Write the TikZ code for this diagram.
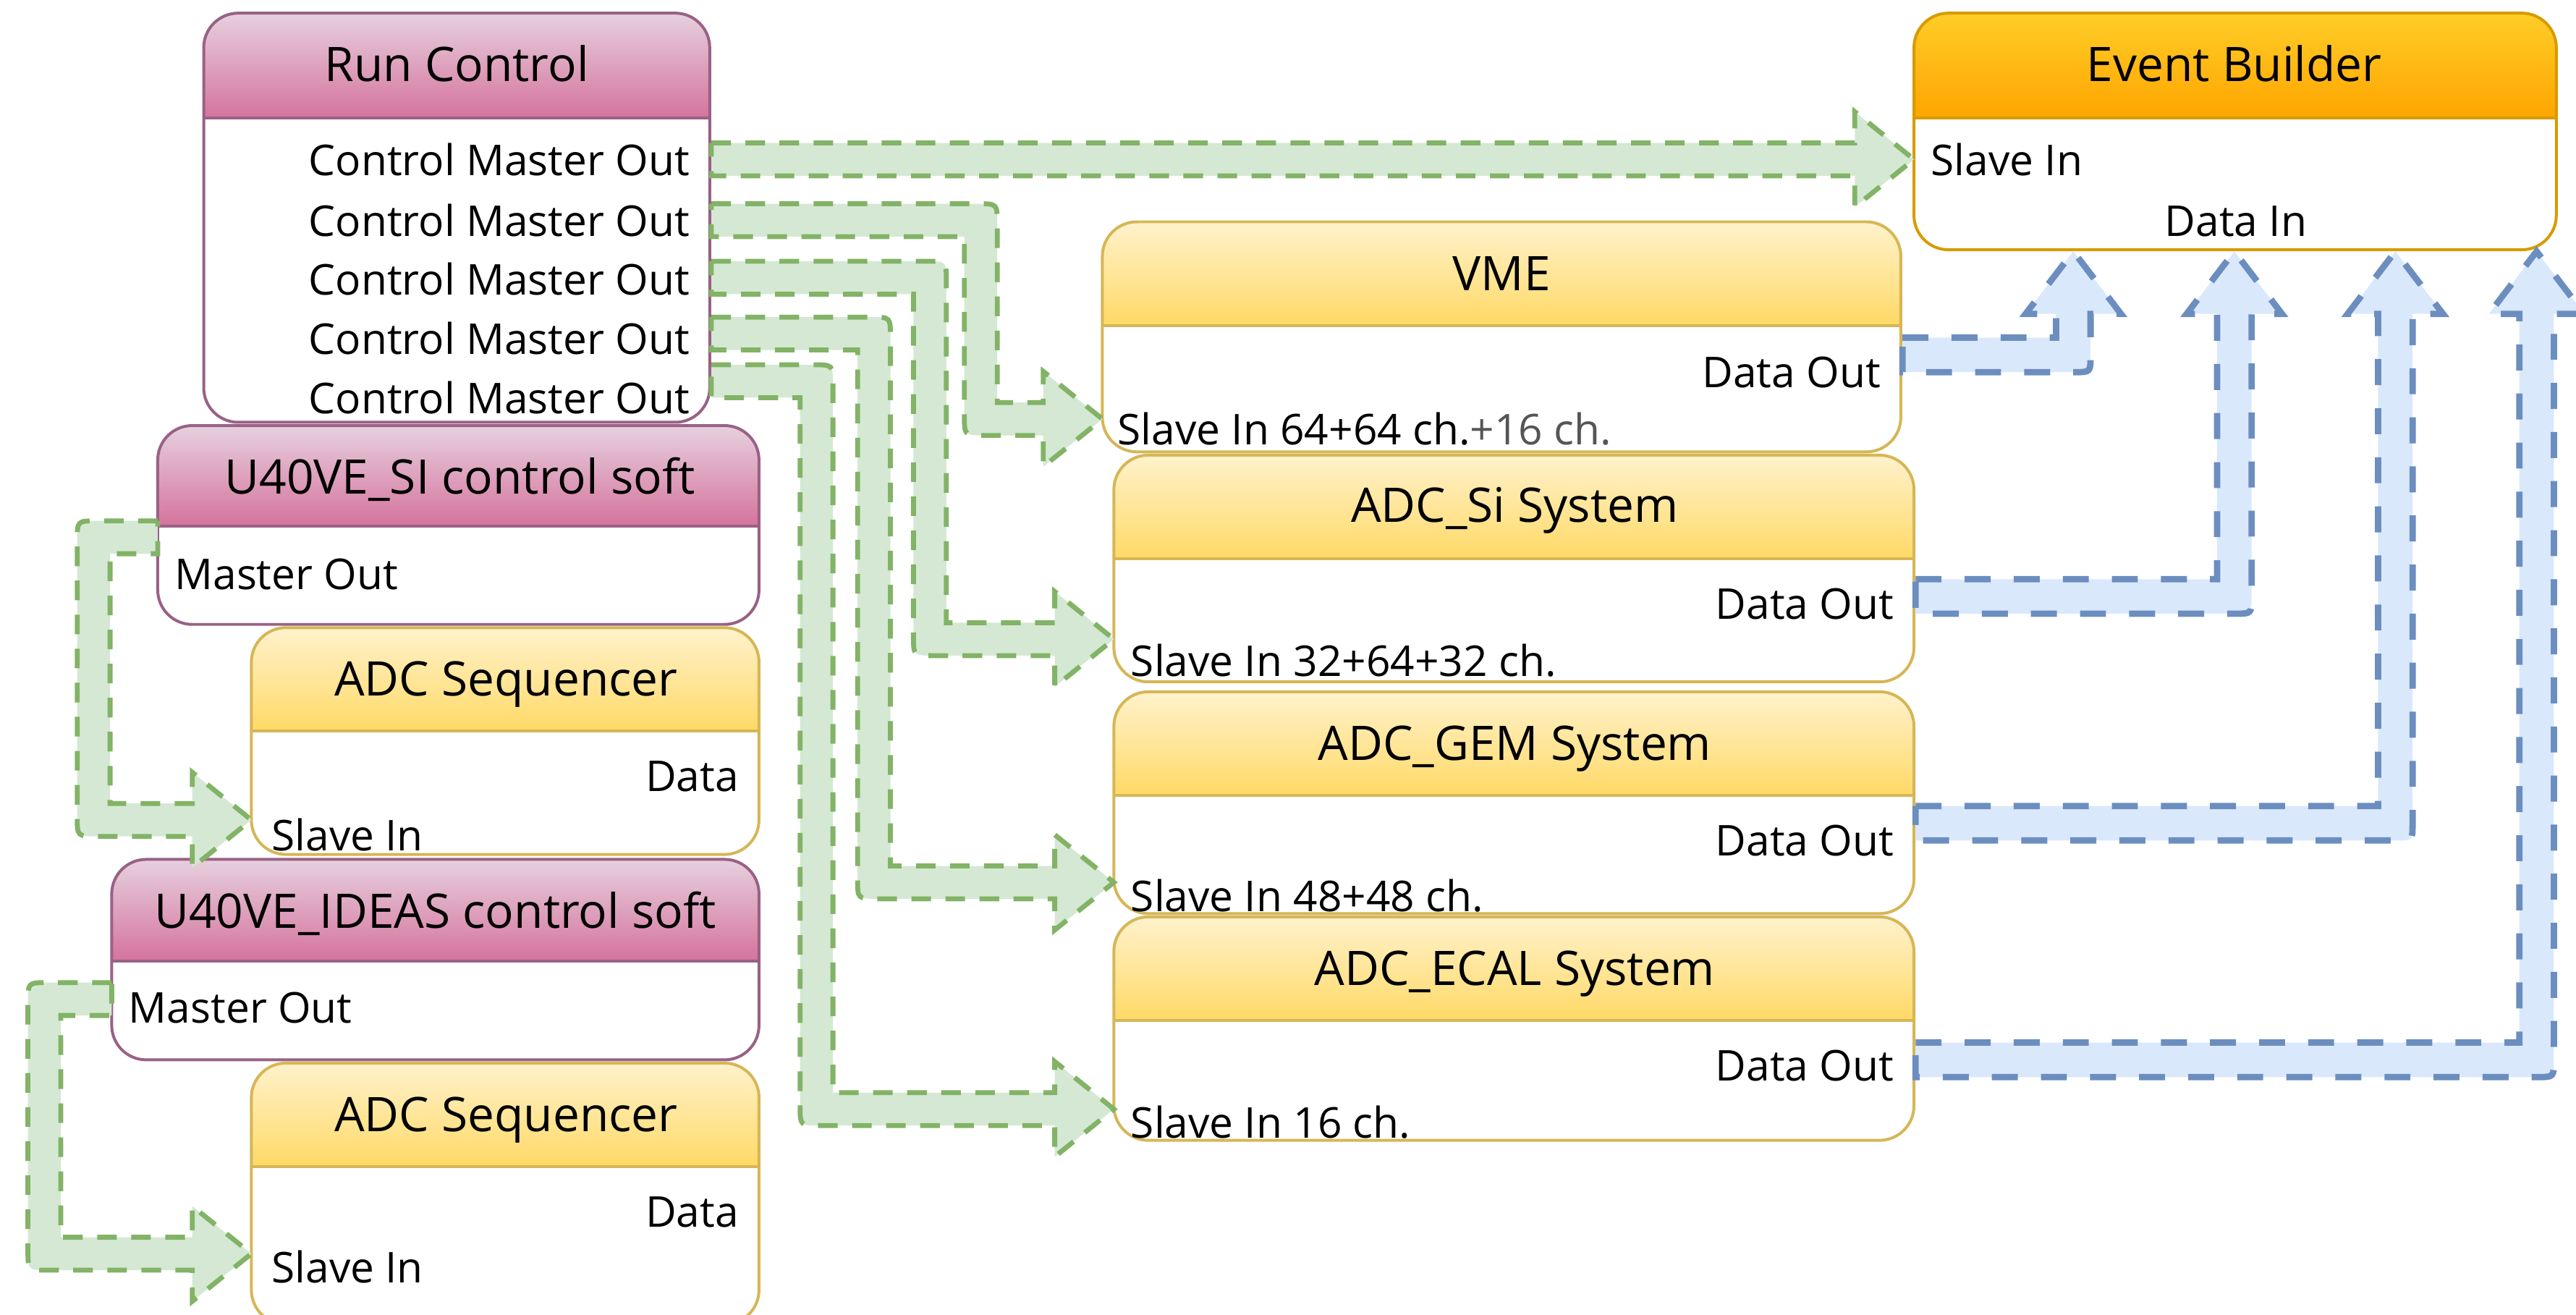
\documentclass[tikz,border=0pt]{standalone}
\usepackage{fontspec}
\setmainfont{Open Sans}
\usetikzlibrary{calc}
\definecolor{pinkT}{HTML}{E6D0DE}
\definecolor{pinkB}{HTML}{D5739D}
\definecolor{pinkS}{HTML}{996185}
\definecolor{yelT}{HTML}{FFF2CC}
\definecolor{yelB}{HTML}{FFD966}
\definecolor{yelS}{HTML}{D6B656}
\definecolor{oraT}{HTML}{FFCD28}
\definecolor{oraB}{HTML}{FFA500}
\definecolor{oraS}{HTML}{D79B00}
\definecolor{gFill}{HTML}{D5E8D4}
\definecolor{gLine}{HTML}{82B366}
\definecolor{bFill}{HTML}{DAE8FC}
\definecolor{bLine}{HTML}{6C8EBF}
\definecolor{grayTxt}{HTML}{555555}

% swimlane box: #1 x1, #2 y1, #3 x2, #4 y2, #5 header bottom y, #6 top colour, #7 bottom colour, #8 stroke
\newcommand\swimbox[8]{%
  \begin{scope}
    \clip[rounded corners=0.42cm] (#1,#2) rectangle (#3,#4);
    \fill[white] (#1,#2) rectangle (#3,#4);
    \shade[top color=#6,bottom color=#7] (#1,#2) rectangle (#3,#5);
  \end{scope}
  \draw[#8,line width=1pt,rounded corners=0.42cm] (#1,#2) rectangle (#3,#4);
  \draw[#8,line width=1pt] (#1,#5) -- (#3,#5);
}

% straight arrow: #1 start, #2 tip, #3 style
\newcommand\arrowS[3]{%
  \draw[#3] ($(#1)+(0,-\ah)$) -- ($(#2)+(-\aL,-\ah)$) -- ($(#2)+(-\aL,-\aH)$) -- (#2)
    -- ($(#2)+(-\aL,\aH)$) -- ($(#2)+(-\aL,\ah)$) -- ($(#1)+(0,\ah)$) -- cycle;}

% right-down-right arrow: #1 start, #2 bend x, #3 tip, #4 style
\newcommand\arrowRDR[4]{%
  \coordinate (bA) at (#2,0 |- #1);
  \coordinate (bB) at (#2,0 |- #3);
  \draw[#4] ($(#1)+(0,-\ah)$) -- ($(bA)+(\ah-\cr,-\ah)$) .. controls ($(bA)+(\ah,-\ah)$) .. ($(bA)+(\ah,-\ah+\cr)$)
    -- ($(bB)+(\ah,-\ah)$) -- ($(#3)+(-\aL,-\ah)$) -- ($(#3)+(-\aL,-\aH)$) -- (#3)
    -- ($(#3)+(-\aL,\aH)$) -- ($(#3)+(-\aL,\ah)$) -- ($(bB)+(-\ah+\cr,\ah)$) .. controls ($(bB)+(-\ah,\ah)$) .. ($(bB)+(-\ah,\ah-\cr)$)
    -- ($(bA)+(-\ah,\ah)$) -- ($(#1)+(0,\ah)$) -- cycle;}

% left-down-right arrow: #1 start, #2 bend x, #3 tip, #4 style
\newcommand\arrowLDR[4]{%
  \coordinate (bA) at (#2,0 |- #1);
  \coordinate (bB) at (#2,0 |- #3);
  \draw[#4] ($(#1)+(0,-\ah)$) -- ($(bA)+(-\ah+\cr,-\ah)$) .. controls ($(bA)+(-\ah,-\ah)$) .. ($(bA)+(-\ah,-\ah+\cr)$)
    -- ($(bB)+(-\ah,\ah-\cr)$) .. controls ($(bB)+(-\ah,\ah)$) .. ($(bB)+(-\ah+\cr,\ah)$)
    -- ($(#3)+(-\aL,\ah)$) -- ($(#3)+(-\aL,\aH)$) -- (#3) -- ($(#3)+(-\aL,-\aH)$) -- ($(#3)+(-\aL,-\ah)$)
    -- ($(bB)+(\ah,-\ah)$) -- ($(bA)+(\ah,\ah)$) -- ($(#1)+(0,\ah)$) -- cycle;}

% right-up arrow: #1 start, #2 tip, #3 style
\newcommand\arrowRU[3]{%
  \coordinate (bA) at (#2 |- #1);
  \draw[#3] ($(#1)+(0,-\ah)$) -- ($(bA)+(-\ah,-\ah)$) -- ($(#2)+(-\ah,\aL)$) -- ($(#2)+(-\aH,\aL)$) -- (#2)
    -- ($(#2)+(\aH,\aL)$) -- ($(#2)+(\ah,\aL)$) -- ($(bA)+(\ah,\ah-\cr)$) .. controls ($(bA)+(\ah,\ah)$) .. ($(bA)+(\ah-\cr,\ah)$)
    -- ($(#1)+(0,\ah)$) -- cycle;}

\newcommand\ttlfont{\fontsize{16.5}{19}\selectfont}
\newcommand\rowfont{\fontsize{14.7}{17}\selectfont}

\begin{document}
\begin{tikzpicture}[x=0.02cm,y=-0.02cm,
  ttl/.style={font=\ttlfont,inner sep=0pt,anchor=mid,yshift=-0.1cm},
  rowL/.style={font=\rowfont,inner sep=0pt,anchor=mid west,yshift=-0.1cm},
  rowR/.style={font=\rowfont,inner sep=0pt,anchor=mid east,yshift=-0.1cm},
  rowC/.style={font=\rowfont,inner sep=0pt,anchor=mid,yshift=-0.1cm},
  garrow/.style={fill=gFill,draw=gLine,line width=1.7pt,dash pattern=on 6.8pt off 5pt},
  barrow/.style={fill=bFill,draw=bLine,line width=2.2pt,dash pattern=on 9pt off 8pt}]
\useasboundingbox (0,0) rectangle (1568,800);
\clip (0,0) rectangle (1568,800);

% ---------- boxes ----------
\swimbox{124}{8}{432}{257}{72}{pinkT}{pinkB}{pinkS}
\node[ttl] (rc) at (278,40) {Run Control};
\node[rowR] (rc1) at (420,97) {Control Master Out};
\node[rowR] (rc2) at (420,134) {Control Master Out};
\node[rowR] (rc3) at (420,170) {Control Master Out};
\node[rowR] (rc4) at (420,206) {Control Master Out};
\node[rowR] (rc5) at (420,242) {Control Master Out};

\swimbox{1165}{8}{1556}{152}{72}{oraT}{oraB}{oraS}
\node[ttl] (eb) at (1360,40) {Event Builder};
\node[rowL] (ebs) at (1175,97) {Slave In};
\node[rowC] (ebd) at (1361,134) {Data In};

\swimbox{671}{135}{1157}{275}{198}{yelT}{yelB}{yelS}
\node[ttl] (vme) at (914,167) {VME};
\node[rowR] (vmed) at (1145,226) {Data Out};
\node[rowL] (vmes) at (680,261) {Slave In 64+64 ch.\textcolor{grayTxt}{+16 ch.}};

\swimbox{678}{277}{1165}{415}{340}{yelT}{yelB}{yelS}
\node[ttl] (si) at (922,308) {ADC\_Si System};
\node[rowR] (sid) at (1153,367) {Data Out};
\node[rowL] (sis) at (688,402) {Slave In 32+64+32 ch.};

\swimbox{678}{421}{1165}{556}{484}{yelT}{yelB}{yelS}
\node[ttl] (gem) at (922,453) {ADC\_GEM System};
\node[rowR] (gemd) at (1153,511) {Data Out};
\node[rowL] (gems) at (688,545) {Slave In 48+48 ch.};

\swimbox{678}{558}{1165}{694}{621}{yelT}{yelB}{yelS}
\node[ttl] (ecal) at (922,590) {ADC\_ECAL System};
\node[rowR] (ecald) at (1153,648) {Data Out};
\node[rowL] (ecals) at (688,683) {Slave In 16 ch.};

\swimbox{96}{259}{462}{380}{320}{pinkT}{pinkB}{pinkS}
\node[ttl] (sisoft) at (280,291) {U40VE\_SI control soft};
\node[rowL] (sisoftm) at (106,349) {Master Out};

\swimbox{153}{382}{462}{520}{445}{yelT}{yelB}{yelS}
\node[ttl] (seqa) at (308,414) {ADC Sequencer};
\node[rowR] (seqad) at (450,472) {Data};
\node[rowL] (seqas) at (165,508) {Slave In};

\swimbox{68}{523}{462}{645}{585}{pinkT}{pinkB}{pinkS}
\node[ttl] (ideas) at (265,555) {U40VE\_IDEAS control soft};
\node[rowL] (ideasm) at (78,613) {Master Out};

\swimbox{153}{647}{462}{806}{710}{yelT}{yelB}{yelS}
\node[ttl] (seqb) at (308,679) {ADC Sequencer};
\node[rowR] (seqbd) at (450,737) {Data};
\node[rowL] (seqbs) at (165,771) {Slave In};

% ---------- ports ----------
\coordinate (pR1) at (433,97);
\coordinate (pR2) at (433,134);
\coordinate (pR3) at (433,169);
\coordinate (pR4) at (433,203);
\coordinate (pR5) at (433,232);
\coordinate (tEB) at (1165,97);
\coordinate (tVME) at (671,255);
\coordinate (tSI) at (678,389);
\coordinate (tGEM) at (678,537);
\coordinate (tECAL) at (678,675);
\coordinate (pSIsoft) at (96,327);
\coordinate (tSeqA) at (153,499);
\coordinate (pIDEAS) at (68,608);
\coordinate (tSeqB) at (153,763);
\coordinate (oVME) at (1158,216);
\coordinate (oSI) at (1166,363);
\coordinate (oGEM) at (1166,501);
\coordinate (oECAL) at (1166,645);
\coordinate (iEB1) at (1262,153);
\coordinate (iEB2) at (1360,153);
\coordinate (iEB3) at (1458,153);
\coordinate (iEB4) at (1544,153);

% ---------- green control arrows ----------
\def\ah{10}\def\aH{29}\def\aL{36}\def\cr{12}
\arrowS{pR1}{tEB}{garrow}
\arrowRDR{pR2}{597}{tVME}{garrow}
\arrowRDR{pR3}{566}{tSI}{garrow}
\arrowRDR{pR4}{532}{tGEM}{garrow}
\arrowRDR{pR5}{497}{tECAL}{garrow}
\arrowLDR{pSIsoft}{57}{tSeqA}{garrow}
\arrowLDR{pIDEAS}{27}{tSeqB}{garrow}

% ---------- blue data arrows ----------
\def\ah{10.5}\def\aH{29}\def\aL{38}\def\cr{10}
\arrowRU{oVME}{iEB1}{barrow}
\arrowRU{oSI}{iEB2}{barrow}
\arrowRU{oGEM}{iEB3}{barrow}
\arrowRU{oECAL}{iEB4}{barrow}
\end{tikzpicture}
\end{document}
